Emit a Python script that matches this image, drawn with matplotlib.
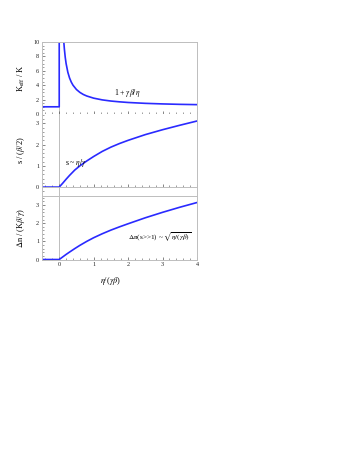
import matplotlib
matplotlib.use("Agg")
import matplotlib.pyplot as plt
from matplotlib.ticker import MultipleLocator

plt.rcParams['font.family'] = ['Liberation Serif', 'DejaVu Serif']
plt.rcParams['mathtext.fontset'] = 'stix'

# Panel 1: K_eff / K vs eta/(gamma beta)
eta_k = [-0.5, 0.0, 0.0, 0.12, 0.133, 0.15, 0.175, 0.2, 0.25, 0.3, 0.35, 0.4, 0.5, 0.6,
         0.7, 0.8, 1.0, 1.25, 1.5, 1.75, 2.0, 2.5, 3.0, 3.5, 4.0]
k_eff = [1.0, 1.0, 10.5, 11.0, 10.0, 9.0, 7.86, 7.0, 5.8, 5.0, 4.43, 4.0, 3.4, 3.0,
         2.71, 2.5, 2.2, 1.96, 1.8, 1.69, 1.6, 1.48, 1.4, 1.34, 1.3]

# Panel 2: s / (beta/2)
eta_s = [-0.5, 0.0, 0.1, 0.2, 0.3, 0.45, 0.6, 0.8, 1.0, 1.25, 1.5, 1.75, 2.0, 2.5,
         3.0, 3.5, 4.0]
s_val = [0.0, 0.0, 0.18, 0.37, 0.55, 0.8, 1.0, 1.23, 1.44, 1.68, 1.88, 2.05, 2.2,
         2.47, 2.7, 2.91, 3.11]

# Panel 3: delta n / (K beta / gamma)
eta_n = [-0.5, 0.0, 0.1, 0.2, 0.3, 0.45, 0.6, 0.8, 1.0, 1.25, 1.5, 1.75, 2.0, 2.5,
         3.0, 3.5, 4.0]
dn_val = [0.0, 0.0, 0.14, 0.28, 0.41, 0.6, 0.78, 1.0, 1.2, 1.42, 1.62, 1.8, 1.97,
          2.3, 2.6, 2.88, 3.14]

x_ticks = [0, 1, 2, 3, 4]

W, H = 353, 457
fig = plt.figure(figsize=(W / 100, H / 100), dpi=100)

left = 42 / W
width = (197 - 42) / W

def box(top_px, bot_px):
    return [left, 1 - bot_px / H, width, (bot_px - top_px) / H]

ax1 = fig.add_axes(box(42, 114))
ax2 = fig.add_axes(box(114, 196))
ax3 = fig.add_axes(box(196, 259.5))

blue = '#2a2aff'
frame = '#bdbdbd'
lw = 1.2

ax1.plot(eta_k, k_eff, color=blue, lw=lw)
ax2.plot(eta_s, s_val, color=blue, lw=lw)
ax3.plot(eta_n, dn_val, color=blue, lw=lw)

ax1.set_ylim(0, 10)
ax2.set_ylim(-0.42, 3.44)
ax3.set_ylim(0, 3.5)

for ax in (ax1, ax2, ax3):
    ax.set_xlim(-0.5, 4)
    ax.axvline(0, color=frame, lw=0.7, zorder=0)
    for sp in ax.spines.values():
        sp.set_color(frame)
        sp.set_linewidth(0.7)
    ax.xaxis.set_major_locator(MultipleLocator(1))
    ax.xaxis.set_minor_locator(MultipleLocator(0.2))
    ax.tick_params(which='both', direction='in', colors='#555555', labelcolor='#222222',
                   labelsize=4.5, top=False, right=False, pad=2)
    ax.tick_params(which='major', length=2.2, width=0.5)
    ax.tick_params(which='minor', length=1.2, width=0.4)

ax1.yaxis.set_major_locator(MultipleLocator(2))
ax1.yaxis.set_minor_locator(MultipleLocator(0.5))
ax2.yaxis.set_major_locator(MultipleLocator(1))
ax2.yaxis.set_minor_locator(MultipleLocator(0.2))
ax3.yaxis.set_major_locator(MultipleLocator(1))
ax3.yaxis.set_minor_locator(MultipleLocator(0.2))

ax1.tick_params(axis='x', labelbottom=False)
ax2.spines['bottom'].set_position(('data', 0))
ax2.tick_params(axis='x', labelbottom=False)
ax2.spines['top'].set_visible(False)
ax3.set_xticks(x_ticks)
ax3.set_xticklabels([str(v) for v in x_ticks])

ax1.set_ylabel(r'K$_{\rm eff}$ / K', fontsize=6)
ax2.set_ylabel(r's / ($\beta$/2)', fontsize=6)
ax3.set_ylabel(r'$\Delta$n / (K$\beta$/$\gamma$)', fontsize=6)
ax1.yaxis.set_label_coords(-15 / 155, 0.5)
ax2.yaxis.set_label_coords(-15 / 155, 0.56)
ax3.yaxis.set_label_coords(-15 / 155, 0.5)
ax3.set_xlabel(r'$\eta$/($\gamma\beta$)', fontsize=6)
ax3.xaxis.set_label_coords((111 - 42) / 155, -0.24)

ax1.text(1.97, 2.9, r'1 + $\gamma\beta/\eta$', fontsize=5.5, ha='center', va='center')
ax2.text(0.48, 1.14, r's ~ $\eta/\gamma$', fontsize=5.5, ha='center', va='center')
ax3.text(2.93, 1.24, r'$\Delta$n(s>>1) ~ $\sqrt{\eta/(\gamma\beta)}$', fontsize=5.2,
         ha='center', va='center')

fig.savefig('out.png', dpi=100)
